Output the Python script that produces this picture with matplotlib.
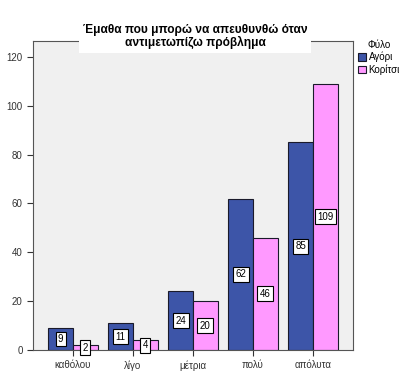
import numpy as np
import matplotlib.pyplot as plt

plt.rcParams['font.family'] = ['Liberation Sans', 'DejaVu Sans']

categories = ["καθόλου", "λίγο", "μέτρια", "πολύ", "απόλυτα"]
boys = [9, 11, 24, 62, 85]
girls = [2, 4, 20, 46, 109]
series_names = ["Αγόρι", "Κορίτσι"]
title = "Έμαθα που μπορώ να απευθυνθώ όταν\nαντιμετωπίζω πρόβλημα"

blue = "#3d55a8"
pink = "#ff99ff"

fig = plt.figure(figsize=(4, 3.79), dpi=100)
ax = fig.add_axes([0.0825, 0.0765, 0.8, 0.815])
ax.set_facecolor("#f0f0f0")

x = np.arange(len(categories))
w = 0.41
b1 = ax.bar(x - w / 2, boys, w, color=blue, edgecolor="#1a1a2a", linewidth=0.8, label=series_names[0])
b2 = ax.bar(x + w / 2, girls, w, color=pink, edgecolor="#1a1a2a", linewidth=0.8, label=series_names[1])

for bars, vals in ((b1, boys), (b2, girls)):
    for rect, v in zip(bars, vals):
        ax.text(rect.get_x() + rect.get_width() / 2, v / 2, str(v), ha="center", va="center",
                fontsize=7, bbox=dict(boxstyle="square,pad=0.25", fc="white", ec="black", lw=0.8))

ax.set_xlim(-0.667, 4.667)
ax.set_ylim(0, 126.5)
ax.set_yticks([0, 20, 40, 60, 80, 100, 120])
ax.set_xticks(x)
ax.set_xticklabels(categories)
ax.tick_params(labelsize=7, length=4, width=0.8, colors="#333333")
for s in ax.spines.values():
    s.set_color("#555555")
    s.set_linewidth(0.8)

fig.text(0.4875, 0.903, title, ha="center", va="center", fontsize=8.6, fontweight="bold",
         linespacing=1.0, bbox=dict(boxstyle="square,pad=0.3", fc="white", ec="none"))

leg = fig.legend(handles=[b1, b2], loc="upper left", bbox_to_anchor=(0.885, 0.905),
                 title="Φύλο", frameon=False, fontsize=7, title_fontsize=7,
                 handlelength=0.8, handleheight=0.8, handletextpad=0.3, borderaxespad=0,
                 labelspacing=0.2)

fig.savefig("out.png", dpi=100)
